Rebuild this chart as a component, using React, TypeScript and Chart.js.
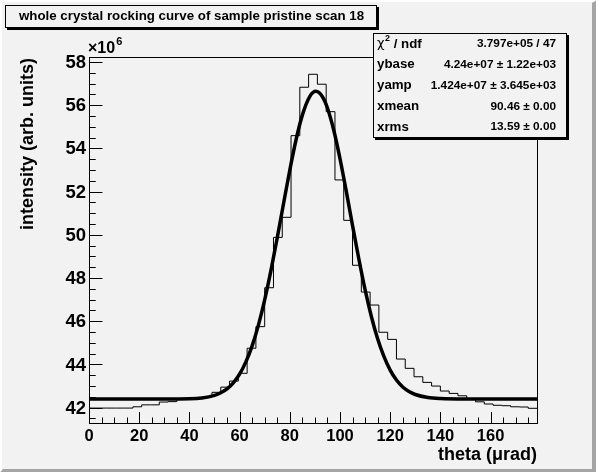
import React, { useEffect, useRef } from "react";
import { Chart, registerables } from "chart.js";

Chart.register(...registerables);

// ---------------- data ----------------
const binLow = 0;
const binWidth = 3.5;
const histValues = [
  41.98, 41.98, 41.98, 41.98, 41.98, 42.04, 42.13, 42.13, 42.26, 42.28,
  42.39, 42.41, 42.44, 42.5, 42.71, 42.95, 43.23, 43.59, 44.75, 45.75,
  47.55, 49.88, 50.81, 54.59, 56.83, 57.43, 56.97, 55.7, 52.54, 50.67,
  48.59, 47.35, 46.75, 45.49, 45.16, 44.25, 43.82, 43.43, 43.17, 43.0,
  42.77, 42.66, 42.55, 42.4, 42.27, 42.17, 42.11, 42.09, 42.04, 42.03,
  41.97,
];

const fitX = [
  0, 10, 20, 30, 40, 45, 50, 52.5, 55, 57.5, 60, 62.5, 65, 67.5, 70, 72.5, 75,
  77.5, 80, 82.5, 85, 88, 90.46, 93, 95, 97.5, 100, 102.5, 105, 107.5, 110,
  112.5, 115, 117.5, 120, 122.5, 125, 127.5, 130, 135, 140, 150, 160, 170, 178.5,
];
const fitY = [
  42.4, 42.4, 42.4, 42.4, 42.41, 42.45, 42.57, 42.69, 42.87, 43.15, 43.55,
  44.12, 44.86, 45.82, 46.99, 48.35, 49.86, 51.44, 52.99, 54.4, 55.54, 56.41,
  56.64, 56.39, 55.87, 54.85, 53.53, 52.02, 50.43, 48.89, 47.46, 46.22, 45.19,
  44.37, 43.74, 43.28, 42.96, 42.75, 42.61, 42.47, 42.42, 42.4, 42.4, 42.4, 42.4,
];

const xMin = 0;
const xMax = 178.5;
const yMin = 41.29;
const yMax = 58.23;

const xMajorTicks = [0, 20, 40, 60, 80, 100, 120, 140, 160];
const xTickLabels = ["0", "20", "40", "60", "80", "100", "120", "140", "160"];
const xMinorStep = 5;
const yMajorTicks = [42, 44, 46, 48, 50, 52, 54, 56, 58];
const yTickLabels = ["42", "44", "46", "48", "50", "52", "54", "56", "58"];
const yMinorStep = 0.5;
const yExponent = "6";

const titleText = "whole crystal rocking curve of sample pristine scan 18";
const xTitle = "theta (\u03bcrad)";
const yTitle = "intensity (arb. units)";

const statsLabels = ["\u03c7", "ybase", "yamp", "xmean", "xrms"];
const statsValues = [
  "3.797e+05 / 47",
  "4.24e+07 \u00b1 1.22e+03",
  "1.424e+07 \u00b1 3.645e+03",
  "90.46 \u00b1 0.00",
  "13.59 \u00b1 0.00",
];

// ---------------- drawing helpers ----------------
const W = 596;
const H = 472;
const BG = "#f2f2f2";
const FONT = "'Liberation Sans', Arial, Helvetica, sans-serif";

const decorPlugin = {
  id: "rootDecor",
  beforeDraw(chart: any) {
    const ctx = chart.ctx as CanvasRenderingContext2D;
    ctx.save();
    ctx.fillStyle = BG;
    ctx.fillRect(0, 0, W, H);
    // bevel (dark right / bottom)
    ctx.fillStyle = "#a4a4a4";
    ctx.beginPath();
    ctx.moveTo(W, 0);
    ctx.lineTo(W, H);
    ctx.lineTo(0, H);
    ctx.lineTo(3, H - 3);
    ctx.lineTo(W - 4, H - 3);
    ctx.lineTo(W - 4, 3);
    ctx.closePath();
    ctx.fill();
    ctx.fillStyle = "#ffffff";
    ctx.beginPath();
    ctx.moveTo(0, 0);
    ctx.lineTo(W, 0);
    ctx.lineTo(W - 2, 2);
    ctx.lineTo(2, 2);
    ctx.lineTo(2, H - 2);
    ctx.lineTo(0, H);
    ctx.closePath();
    ctx.fill();
    ctx.restore();
  },
  afterDraw(chart: any) {
    const ctx = chart.ctx as CanvasRenderingContext2D;
    const area = chart.chartArea;
    const xs = chart.scales.x;
    const ys = chart.scales.y;
    ctx.save();

    // frame
    ctx.strokeStyle = "#000";
    ctx.lineWidth = 1;
    ctx.strokeRect(
      Math.round(area.left) + 0.5,
      Math.round(area.top) + 0.5,
      Math.round(area.right - area.left),
      Math.round(area.bottom - area.top)
    );

    // ticks (inward)
    const fw = area.right - area.left;
    const fh = area.bottom - area.top;
    const xMajLen = 0.03 * fh;
    const yMajLen = 0.03 * fw;
    ctx.beginPath();
    for (let v = xMin; v <= xMax + 1e-9; v += xMinorStep) {
      const px = Math.round(xs.getPixelForValue(v)) + 0.5;
      const major = Math.abs(v / 20 - Math.round(v / 20)) < 1e-6;
      const len = major ? xMajLen : xMajLen / 2;
      ctx.moveTo(px, area.bottom);
      ctx.lineTo(px, area.bottom - len);
    }
    for (let v = 41.5; v <= yMax + 1e-9; v += yMinorStep) {
      const py = Math.round(ys.getPixelForValue(v)) + 0.5;
      const major = Math.abs(v / 2 - Math.round(v / 2)) < 1e-6;
      const len = major ? yMajLen : yMajLen / 2;
      ctx.moveTo(area.left, py);
      ctx.lineTo(area.left + len, py);
    }
    ctx.stroke();

    // tick labels
    ctx.fillStyle = "#000";
    ctx.font = `bold 16.5px ${FONT}`;
    ctx.textAlign = "center";
    ctx.textBaseline = "middle";
    xMajorTicks.forEach((v, i) => {
      ctx.fillText(xTickLabels[i], xs.getPixelForValue(v), area.bottom + 13);
    });
    ctx.font = `bold 18.5px ${FONT}`;
    ctx.textAlign = "right";
    yMajorTicks.forEach((v, i) => {
      ctx.fillText(yTickLabels[i], area.left - 3, ys.getPixelForValue(v) + 1);
    });

    // exponent x10^6
    ctx.textAlign = "left";
    ctx.font = `bold 16px ${FONT}`;
    ctx.fillText("\u00d710", area.left - 1, area.top - 8);
    const ew = ctx.measureText("\u00d710").width;
    ctx.font = `bold 11px ${FONT}`;
    ctx.fillText(yExponent, area.left - 1 + ew + 1, area.top - 15);

    // axis titles
    ctx.font = `bold 18px ${FONT}`;
    ctx.textAlign = "right";
    ctx.fillText(xTitle, area.right, 455);
    ctx.save();
    ctx.translate(28, area.top + 1);
    ctx.rotate(-Math.PI / 2);
    ctx.textAlign = "right";
    ctx.fillText(yTitle, 0, 0);
    ctx.restore();

    // title box
    const tb = { l: 5, t: 5, r: 376, b: 27 };
    ctx.fillStyle = "#000";
    ctx.fillRect(tb.l + 2, tb.t + 2, tb.r - tb.l + 1, tb.b - tb.t + 1);
    ctx.fillStyle = BG;
    ctx.fillRect(tb.l, tb.t, tb.r - tb.l, tb.b - tb.t);
    ctx.strokeStyle = "#000";
    ctx.lineWidth = 1;
    ctx.strokeRect(tb.l + 0.5, tb.t + 0.5, tb.r - tb.l, tb.b - tb.t);
    ctx.fillStyle = "#000";
    ctx.font = `bold 13.3px ${FONT}`;
    ctx.textAlign = "center";
    ctx.fillText(titleText, (tb.l + tb.r) / 2 + 1, 16.5);

    // stats box
    const sb = { l: 373, t: 33, r: 566, b: 137 };
    ctx.fillStyle = "#000";
    ctx.fillRect(sb.l + 2, sb.t + 2, sb.r - sb.l + 1, sb.b - sb.t + 1);
    ctx.fillStyle = BG;
    ctx.fillRect(sb.l, sb.t, sb.r - sb.l, sb.b - sb.t);
    ctx.strokeRect(sb.l + 0.5, sb.t + 0.5, sb.r - sb.l, sb.b - sb.t);
    ctx.fillStyle = "#000";
    const rowH = (sb.b - sb.t) / statsLabels.length;
    const labFont = `bold 13.3px ${FONT}`;
    const valFont = `bold 11.8px ${FONT}`;
    statsLabels.forEach((lab, i) => {
      const cy = sb.t + rowH * (i + 0.5) + 0.5;
      ctx.textAlign = "left";
      ctx.font = labFont;
      if (i === 0) {
        ctx.font = `13px 'DejaVu Sans', ${FONT}`;
        ctx.fillText(lab, 377, cy);
        let x = 377 + ctx.measureText(lab).width + 0.5;
        ctx.font = `bold 9px ${FONT}`;
        ctx.fillText("2", x, cy - 5);
        x += ctx.measureText("2").width;
        ctx.font = labFont;
        ctx.fillText(" / ndf", x, cy);
      } else {
        ctx.fillText(lab, 377, cy);
      }
      ctx.font = valFont;
      ctx.textAlign = "right";
      ctx.fillText(statsValues[i], 556, cy);
    });

    ctx.restore();
  },
};

export default function App() {
  const ref = useRef<HTMLCanvasElement | null>(null);

  useEffect(() => {
    document.body.style.margin = "0";
    const canvas = ref.current;
    if (!canvas) return;

    const histPoints = histValues.map((v, i) => ({ x: binLow + i * binWidth, y: v }));
    histPoints.push({
      x: binLow + histValues.length * binWidth,
      y: histValues[histValues.length - 1],
    });
    const fitPoints = fitX.map((x, i) => ({ x, y: fitY[i] }));

    const chart = new Chart(canvas, {
      type: "line",
      data: {
        datasets: [
          {
            label: "fit",
            data: fitPoints,
            borderColor: "#000",
            borderWidth: 3.5,
            pointRadius: 0,
            cubicInterpolationMode: "monotone",
            fill: false,
            order: 0,
          },
          {
            label: "hist",
            data: histPoints,
            borderColor: "#000",
            borderWidth: 1,
            pointRadius: 0,
            stepped: "before",
            fill: false,
            order: 1,
          },
        ],
      },
      options: {
        responsive: false,
        animation: false,
        events: [],
        devicePixelRatio: 1,
        layout: { padding: { left: 89, top: 57, right: W - 537, bottom: H - 423 } },
        scales: {
          x: { type: "linear", min: xMin, max: xMax, display: false },
          y: { type: "linear", min: yMin, max: yMax, display: false },
        },
        plugins: {
          legend: { display: false },
          tooltip: { enabled: false },
          title: { display: false },
        },
      },
      plugins: [decorPlugin],
    } as any);

    return () => chart.destroy();
  }, []);

  return (
    <canvas
      ref={ref}
      width={W}
      height={H}
      style={{ display: "block", width: W, height: H }}
    />
  );
}
